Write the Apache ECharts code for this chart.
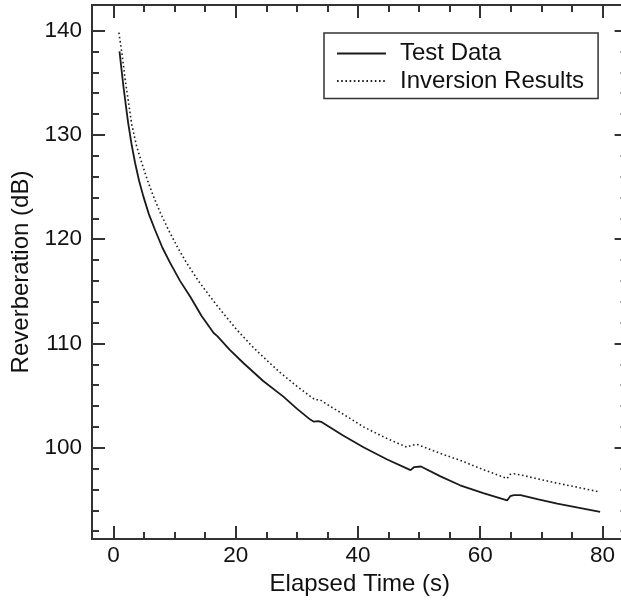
<!DOCTYPE html>
<html><head><meta charset="utf-8">
<script src="https://cdn.jsdelivr.net/npm/echarts@6/dist/echarts.min.js"></script>
<style>html,body{margin:0;padding:0;background:#fff}#c{width:621px;height:607px}</style>
</head><body><div id="c"></div>
<script>
// ---- data ----
const testTime = [1.0,1.3,1.65,2.0,2.4,3.0,3.55,4.2,4.9,5.8,6.8,8.0,9.3,10.9,12.55,14.4,16.4,17.0,19.0,21.3,24.5,27.8,30.0,32.2,32.8,33.5,34.1,37.5,40.9,44.7,48.6,49.2,50.3,53.5,56.7,60.5,64.4,64.9,65.5,66.6,69.5,72.6,76.0,79.6];
const testDb   = [138.0,136.4,134.6,133.0,131.2,129.0,127.3,125.6,124.1,122.4,120.9,119.2,117.7,116.0,114.5,112.65,111.0,110.7,109.4,108.1,106.4,104.9,103.75,102.7,102.5,102.55,102.45,101.2,100.05,98.9,97.85,98.15,98.2,97.25,96.4,95.65,94.95,95.35,95.45,95.45,95.05,94.65,94.25,93.85];
const invTime  = [0.9,1.4,1.9,2.4,3.0,3.8,4.65,5.6,6.55,7.7,9.0,10.5,12.0,13.9,15.8,17.0,18.5,20.2,22.9,25.6,27.3,30.0,32.4,33.0,33.8,35.5,37.5,40.9,44.5,48.0,48.8,49.7,51.5,53.5,56.7,60.5,64.4,64.9,65.5,66.6,69.5,72.6,76.0,79.2];
const invDb    = [139.8,137.8,135.4,133.4,131.0,128.9,127.3,125.6,124.1,122.5,120.9,119.2,117.7,116.0,114.5,113.6,112.5,111.3,109.6,108.1,107.2,105.9,104.85,104.6,104.6,103.95,103.25,102.0,100.95,100.05,100.25,100.3,99.9,99.45,98.8,97.9,97.05,97.45,97.5,97.4,97.0,96.6,96.2,95.8];
const seriesNames = ['Test Data','Inversion Results'];
const xMajor = [0,20,40,60,80];
const xMinor = [5,10,15,25,30,35,45,50,55,65,70,75];
const yMajor = [100,110,120,130,140];
const yMinor = [92,94,96,98,102,104,106,108,112,114,116,118,122,124,126,128,132,134,136,138];
const xTitle = 'Elapsed Time (s)';
const yTitle = 'Reverberation (dB)';

// ---- chart ----
const FONT = '"Liberation Sans", Arial, Helvetica, sans-serif';
const AX = '#333';
const TXT = '#111';
const X_MIN = -3.5, X_MAX = 84.1, Y_MIN = 91.25, Y_MAX = 142.45;
function pairs(xs, ys){ return xs.map((x,i)=>[x, ys[i]]); }

function xAx(pos, ticks, len, line, labels){
  return {
    type:'value', position:pos, min:X_MIN, max:X_MAX, splitLine:{show:false},
    axisLine:{show:line, onZero:false, lineStyle:{color:AX, width:2}},
    axisTick:{show:true, inside:true, length:len, customValues:ticks, lineStyle:{color:AX, width:2}},
    axisLabel: labels ? {show:true, customValues:ticks, fontSize:22.5, color:TXT, fontFamily:FONT, margin:5}
                      : {show:false}
  };
}
function yAx(pos, ticks, len, line, labels){
  return {
    type:'value', position:pos, min:Y_MIN, max:Y_MAX, splitLine:{show:false},
    axisLine:{show:line, onZero:false, lineStyle:{color:AX, width:2}},
    axisTick:{show:true, inside:true, length:len, customValues:ticks, lineStyle:{color:AX, width:2}},
    axisLabel: labels ? {show:true, customValues:ticks, fontSize:22.5, color:TXT, fontFamily:FONT, margin:10}
                      : {show:false}
  };
}

const xAxes = [
  Object.assign(xAx('bottom', xMajor, 13, true, true), {
    name:xTitle, nameLocation:'middle', nameGap:32,
    nameTextStyle:{fontSize:24, color:TXT, fontFamily:FONT}
  }),
  xAx('bottom', xMinor, 7, false, false),
  xAx('top', xMajor, 13, true, false),
  xAx('top', xMinor, 7, false, false)
];
const yAxes = [
  Object.assign(yAx('left', yMajor, 13, true, true), {
    name:yTitle, nameLocation:'middle', nameGap:58,
    nameTextStyle:{fontSize:24, color:TXT, fontFamily:FONT}
  }),
  yAx('left', yMinor, 7, false, false),
  yAx('right', yMajor, 13, true, false),
  yAx('right', yMinor, 7, false, false)
];

const chart = echarts.init(document.getElementById('c'), null, {renderer:'canvas'});
chart.setOption({
  animation:false,
  backgroundColor:'#fff',
  grid:{left:92, top:5, width:535.6, height:534, containLabel:false, outerBoundsMode:'none'},
  xAxis:xAxes,
  yAxis:yAxes,
  legend:{
    show:true, orient:'vertical', left:324, top:33,
    padding:[8,14,5,12], itemGap:2.5, itemWidth:49, itemHeight:14,
    borderColor:'#333', borderWidth:1.5, borderRadius:0, backgroundColor:'#fff',
    selectedMode:false,
    itemStyle:{color:'rgba(0,0,0,0)', borderColor:'rgba(0,0,0,0)', borderWidth:0},
    textStyle:{fontSize:24, color:TXT, fontFamily:FONT, lineHeight:25, padding:[0,0,0,9]},
    data:seriesNames
  },
  series:[
    {name:seriesNames[0], type:'line', xAxisIndex:0, yAxisIndex:0, symbol:'none', silent:true,
     lineStyle:{color:'#1a1a1a', width:1.8}, itemStyle:{color:'#1a1a1a'},
     data:pairs(testTime, testDb)},
    {name:seriesNames[1], type:'line', xAxisIndex:0, yAxisIndex:0, symbol:'none', silent:true,
     lineStyle:{color:'#222', width:1.6, type:[1.6,2.6]}, itemStyle:{color:'#222'},
     data:pairs(invTime, invDb)}
  ]
});
</script>
</body></html>
